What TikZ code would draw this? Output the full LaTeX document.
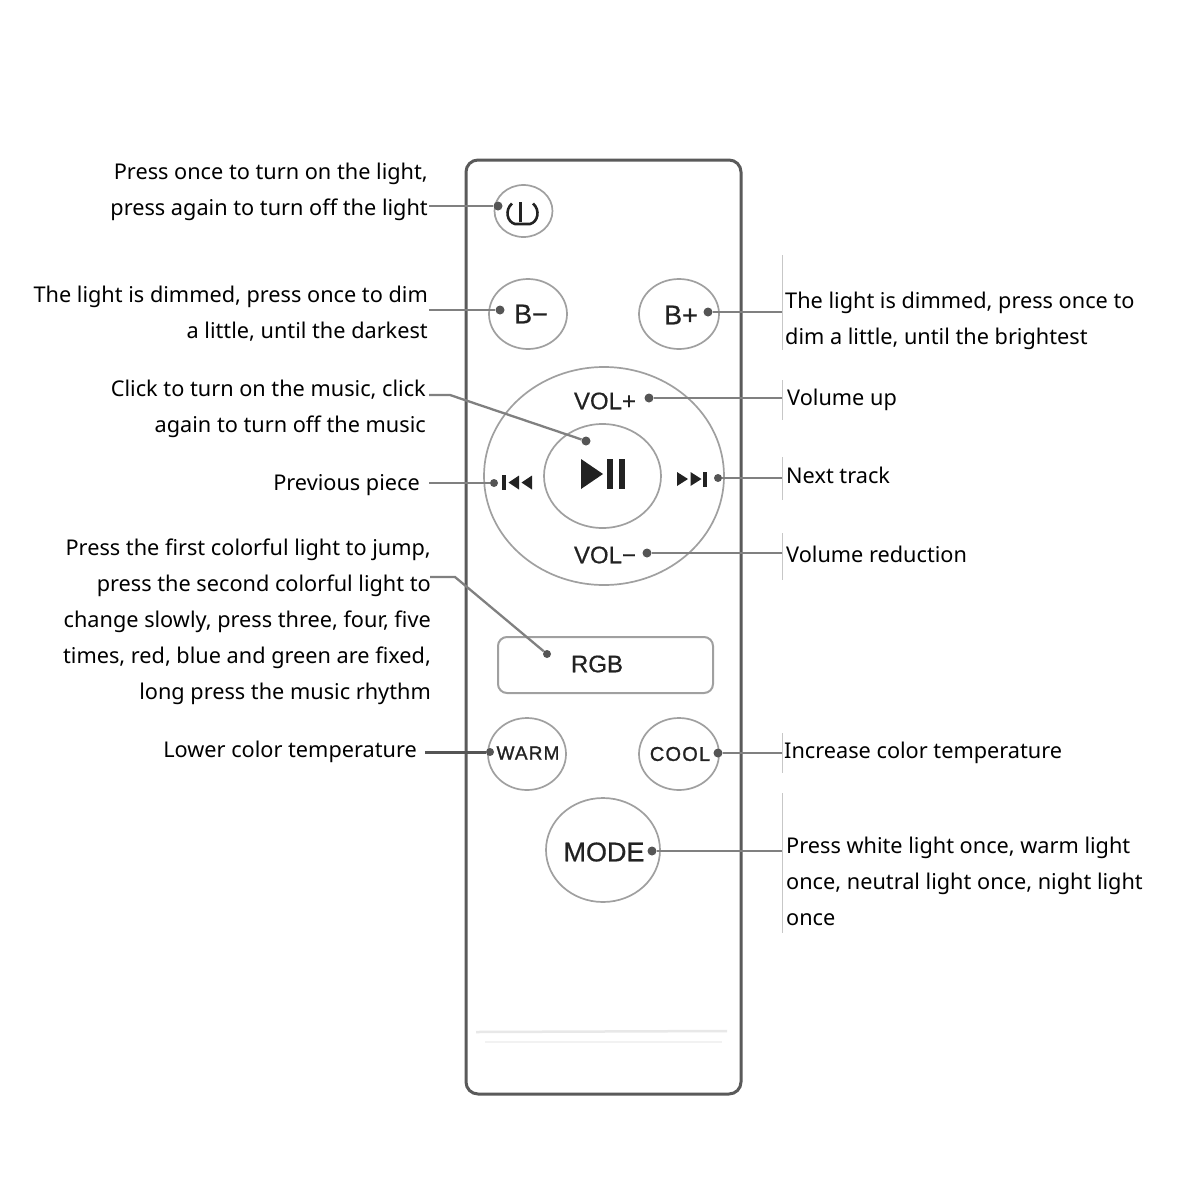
\documentclass[tikz,border=0pt]{standalone}
\usepackage{fontspec}
\setmainfont{Noto Sans}
\newfontfamily\btnfont[FakeBold=0.6]{Liberation Sans}
\newfontfamily\btncaps[FakeBold=1.2,LetterSpace=6]{Liberation Sans}
\usetikzlibrary{shapes.geometric}
\definecolor{body}{HTML}{5A5A5A}
\definecolor{ring}{HTML}{A0A0A0}
\definecolor{lead}{HTML}{808080}
\definecolor{dotc}{HTML}{555555}
\definecolor{glyph}{HTML}{222222}
\tikzset{
  lbl/.style={inner sep=0pt,font=\fontsize{21.7}{36}\selectfont,text=black},
  lblL/.style={lbl,anchor=east,align=right},
  lblR/.style={lbl,anchor=west,align=left},
  btn/.style={ellipse,draw=ring,line width=1.7pt,minimum width=#1,inner sep=0pt},
  btntxt/.style={inner sep=0pt,text=glyph,font=\btnfont\fontsize{#1}{#1}\selectfont},
  btncap/.style={inner sep=0pt,text=glyph,font=\btncaps\fontsize{#1}{#1}\selectfont},
  pin/.style={circle,fill=dotc,inner sep=0pt,minimum size=9pt},
  leader/.style={draw=lead,line width=2.3pt},
  tick/.style={draw=black!22,line width=1pt},
  sym/.style={fill=glyph,draw=none}
}
\begin{document}
\begin{tikzpicture}[x=1pt,y=-1pt]
\useasboundingbox (0,0) rectangle (1200,1200);
\fill[white] (0,0) rectangle (1200,1200);
% remote body
\draw[body,line width=3pt,rounded corners=12pt] (466,160) rectangle (741,1094);
\draw[black!9,line width=2.5pt] (476,1032) -- (727,1031);
\draw[black!5,line width=2pt] (485,1042) -- (722,1042);
% buttons
\node[btn=58pt,minimum height=52pt] (pwr) at (523.5,211) {};
\node[btn=78pt,minimum height=70pt] (bminus) at (528,314) {};
\node[btn=80pt,minimum height=70pt] (bplus) at (679,314) {};
\node[btn=240pt,minimum height=218pt] (wheel) at (604,476) {};
\node[btn=117pt,minimum height=104pt] (play) at (602.5,476) {};
\node[draw=ring,line width=2pt,rounded corners=9pt,minimum width=215pt,minimum height=56pt,inner sep=0pt] (rgb) at (605.5,665) {};
\node[btn=78pt,minimum height=72pt] (warm) at (527,754) {};
\node[btn=80pt,minimum height=72pt] (cool) at (679,754) {};
\node[btn=114pt,minimum height=104pt] (mode) at (603,850) {};
% button captions
\node[btntxt=27] (tbm) at (531,314) {B−};
\node[btntxt=27] (tbp) at (681,315) {B+};
\node[btntxt=24] (tvp) at (605,401) {VOL+};
\node[btntxt=24] (tvm) at (605,555) {VOL−};
\node[btntxt=24] (trgb) at (597,664) {RGB};
\node[btncap=19] (twarm) at (528,753) {WARM};
\node[btncap=20] (tcool) at (680,754) {COOL};
\node[btntxt=27] (tmode) at (604,852) {MODE};
% power glyph
\draw[glyph,line width=2.6pt] (512,203.5) .. controls (504.5,210) and (507,222) .. (515,224) -- (530,224) .. controls (538,222) and (540.5,210) .. (533,203.5);
\draw[glyph,line width=3.2pt] (520.5,202) -- (520.5,222);
% play / pause
\path[sym] (581,459) -- (603,474) -- (581,489) -- cycle;
\path[sym] (607,459) rectangle (613,489);
\path[sym] (619,459) rectangle (625,489);
% previous
\path[sym] (502,475) rectangle (506,490);
\path[sym] (519,475.5) -- (508.5,482.5) -- (519,489.5) -- cycle;
\path[sym] (532,475.5) -- (521.5,482.5) -- (532,489.5) -- cycle;
% next
\path[sym] (677,472) -- (688,479) -- (677,486) -- cycle;
\path[sym] (690.5,472) -- (701.5,479) -- (690.5,486) -- cycle;
\path[sym] (703,471.5) rectangle (707,486.5);
% pins
\node[pin] (ppwr) at (498,206) {};
\node[pin] (pbm) at (500,310) {};
\node[pin] (pbp) at (708,312) {};
\node[pin] (pvp) at (649,398) {};
\node[pin] (pplay) at (586,441) {};
\node[pin,minimum size=8pt] (pprev) at (494,483) {};
\node[pin,minimum size=8pt] (pnext) at (718,478) {};
\node[pin] (pvm) at (647,553) {};
\node[pin,minimum size=8pt] (prgb) at (547,654) {};
\node[pin,minimum size=8pt] (pwarm) at (490,752) {};
\node[pin] (pcool) at (718,753) {};
\node[pin] (pmode) at (652,851) {};
% free ends of leaders
\coordinate (epwr) at (429,206);
\coordinate (ebm) at (429,310);
\coordinate (ebp) at (783,312);
\coordinate (evp) at (783,398);
\coordinate (eplay) at (429,395);
\coordinate (bplay) at (450,395);
\coordinate (eprev) at (429,483);
\coordinate (enext) at (783,478);
\coordinate (evm) at (783,553);
\coordinate (ergb) at (430,577);
\coordinate (brgb) at (455,577);
\coordinate (ewarm) at (425,752);
\coordinate (ecool) at (783,753);
\coordinate (emode) at (783,851);
% leaders
\draw[leader] (epwr) -- (ppwr);
\draw[leader] (ebm) -- (pbm);
\draw[leader] (pbp) -- (ebp);
\draw[leader] (pvp) -- (evp);
\draw[leader] (eplay) -- (bplay) -- (pplay);
\draw[leader] (eprev) -- (pprev);
\draw[leader] (pnext) -- (enext);
\draw[leader] (pvm) -- (evm);
\draw[leader] (ergb) -- (brgb) -- (prgb);
\draw[leader,draw=dotc,line width=3pt] (ewarm) -- (pwarm);
\draw[leader] (pcool) -- (ecool);
\draw[leader] (pmode) -- (emode);
% pale rules beside right-hand labels
\coordinate (t1a) at (782,255); \coordinate (t1b) at (782,350);
\coordinate (t2a) at (782,380); \coordinate (t2b) at (782,420);
\coordinate (t3a) at (782,457); \coordinate (t3b) at (782,500);
\coordinate (t4a) at (782,533); \coordinate (t4b) at (782,580);
\coordinate (t5a) at (782,733); \coordinate (t5b) at (782,773);
\coordinate (t6a) at (782,793); \coordinate (t6b) at (782,933);
\draw[tick] (t1a) -- (t1b);
\draw[tick] (t2a) -- (t2b);
\draw[tick] (t3a) -- (t3b);
\draw[tick] (t4a) -- (t4b);
\draw[tick] (t5a) -- (t5b);
\draw[tick] (t6a) -- (t6b);
% labels
\node[lblL] (lpwr) at (428,192) {Press once to turn on the light,\\press again to turn off the light};
\node[lblL] (lbm) at (428,314) {The light is dimmed, press once to dim\\a little, until the darkest};
\node[lblL] (lplay) at (426,409) {Click to turn on the music, click\\again to turn off the music};
\node[lblL] (lprev) at (420,485) {Previous piece};
\node[lblL] (lrgb) at (431,622) {Press the first colorful light to jump,\\press the second colorful light to\\change slowly, press three, four, five\\times, red, blue and green are fixed,\\long press the music rhythm};
\node[lblL] (lwarm) at (417,752) {Lower color temperature};
\node[lblR] (lbp) at (785,321) {The light is dimmed, press once to\\dim a little, until the brightest};
\node[lblR] (lvp) at (787,400) {Volume up};
\node[lblR] (lnext) at (786,475) {Next track};
\node[lblR] (lvm) at (786,554) {Volume reduction};
\node[lblR] (lcool) at (784,753) {Increase color temperature};
\node[lblR] (lmode) at (786,881) {Press white light once, warm light\\once, neutral light once, night light\\once};
\end{tikzpicture}
\end{document}
